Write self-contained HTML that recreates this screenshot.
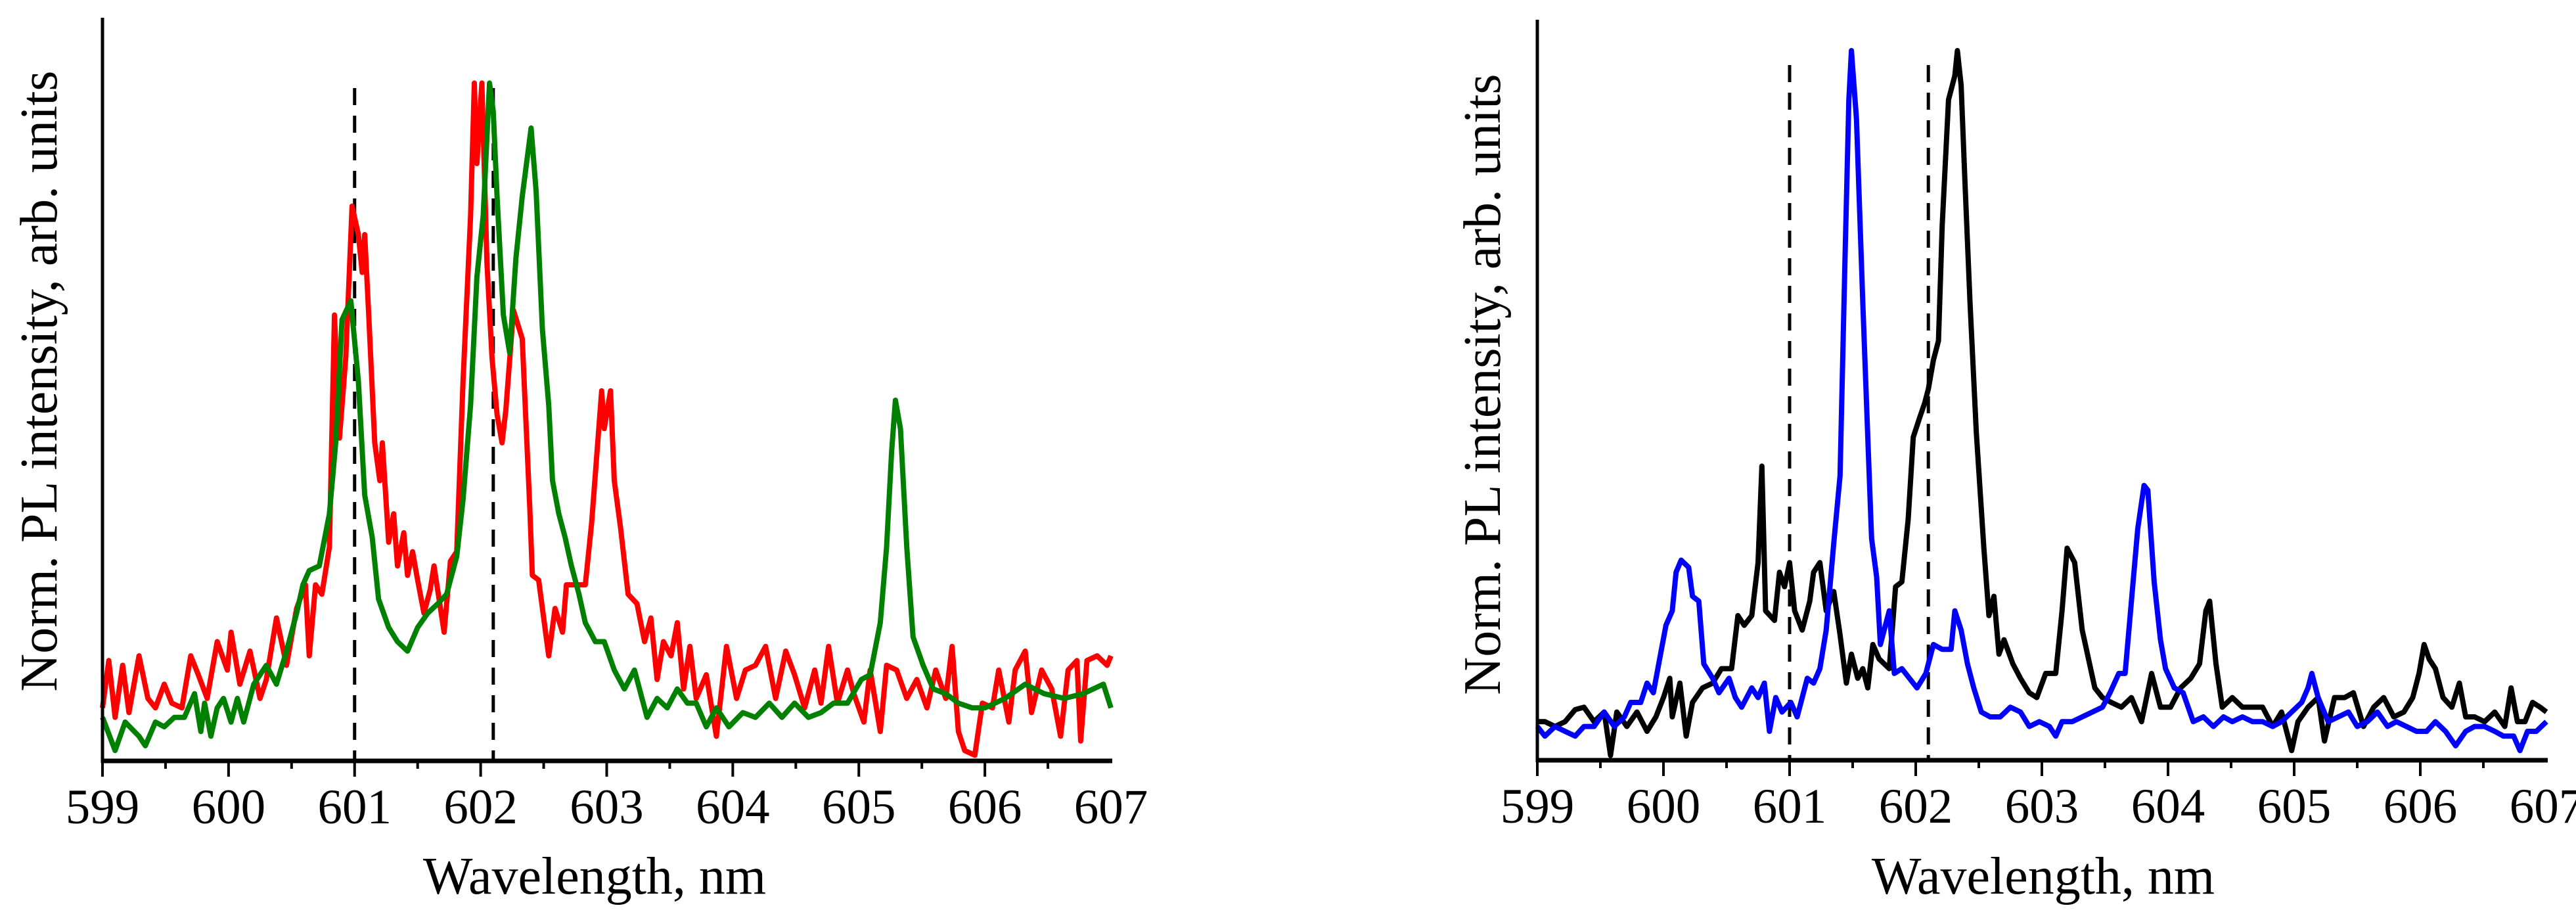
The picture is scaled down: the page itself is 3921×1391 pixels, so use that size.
<!DOCTYPE html>
<html><head><meta charset="utf-8"><style>
html,body{margin:0;padding:0;background:#fff;}
svg{display:block;}
text{font-family:"Liberation Serif",serif;fill:#000;}
</style></head>
<body>
<svg id="chart" width="3921" height="1391" viewBox="0 0 3921 1391" xmlns="http://www.w3.org/2000/svg">
<g id="left"></g>
<g id="right"></g>
</svg>
<script>
// ---- data (wavelength nm, intensity arb. counts) ----
const xTicks = [599,600,601,602,603,604,605,606,607];
const xTickLabels = ["599","600","601","602","603","604","605","606","607"];
const dashLeft = [601.0, 602.1];
const dashRight = [601.0, 602.1];

const redX = [599.00,599.05,599.10,599.16,599.21,599.29,599.36,599.42,599.49,599.55,599.63,599.70,599.76,599.83,599.91,599.99,600.02,600.09,600.17,600.25,600.30,600.38,600.46,600.54,600.61,600.64,600.69,600.74,600.80,600.84,600.88,600.93,600.98,601.03,601.06,601.08,601.11,601.16,601.20,601.22,601.27,601.31,601.34,601.39,601.42,601.46,601.50,601.55,601.60,601.63,601.71,601.76,601.81,601.86,601.92,601.95,601.97,602.01,602.05,602.09,602.13,602.17,602.20,602.26,602.33,602.39,602.41,602.46,602.54,602.59,602.65,602.68,602.75,602.83,602.88,602.96,602.98,603.03,603.06,603.11,603.17,603.24,603.30,603.35,603.40,603.45,603.51,603.56,603.61,603.66,603.71,603.79,603.87,603.95,604.03,604.10,604.18,604.26,604.34,604.42,604.49,604.57,604.65,604.70,604.76,604.83,604.91,604.96,605.04,605.09,605.17,605.22,605.30,605.38,605.46,605.54,605.61,605.69,605.74,605.79,605.84,605.92,605.98,606.06,606.11,606.19,606.24,606.32,606.37,606.45,606.53,606.60,606.66,606.73,606.76,606.81,606.89,606.97,607.00];
const redY = [112,212,92,202,102,222,132,112,162,122,112,222,182,132,252,192,272,162,232,132,172,302,202,322,372,222,372,352,452,942,682,852,1172,1112,1032,1112,952,672,592,672,462,522,412,482,392,442,382,312,362,412,272,422,442,802,1152,1432,1262,1432,1052,852,732,672,742,952,892,532,392,382,222,322,272,372,372,372,502,782,702,782,592,492,352,332,252,302,172,252,222,292,152,242,132,182,52,242,132,192,202,242,132,232,182,112,192,122,242,122,192,142,82,192,62,202,192,132,172,112,192,132,242,62,22,12,122,112,192,82,192,232,102,192,152,52,192,212,42,212,222,202,222];

const greenX = [599.00,599.10,599.18,599.29,599.34,599.42,599.49,599.57,599.65,599.73,599.78,599.81,599.86,599.91,599.96,600.02,600.07,600.12,600.20,600.30,600.38,600.46,600.54,600.59,600.64,600.72,600.80,600.85,600.90,600.97,601.03,601.08,601.14,601.19,601.27,601.34,601.42,601.50,601.58,601.66,601.73,601.81,601.86,601.92,601.97,602.02,602.07,602.10,602.13,602.18,602.23,602.28,602.33,602.40,602.44,602.49,602.54,602.57,602.62,602.67,602.72,602.78,602.83,602.91,602.98,603.06,603.14,603.22,603.32,603.40,603.48,603.56,603.64,603.71,603.79,603.87,603.97,604.08,604.18,604.29,604.39,604.49,604.60,604.70,604.80,604.91,605.02,605.09,605.17,605.22,605.26,605.29,605.33,605.38,605.43,605.51,605.59,605.69,605.79,605.90,606.00,606.16,606.32,606.47,606.63,606.78,606.94,607.00];
const greenY = [92,22,82,52,32,82,72,92,92,142,62,122,52,112,132,82,132,82,162,202,162,232,312,372,402,412,522,672,932,972,802,562,472,342,282,252,232,282,312,332,352,432,552,752,1022,1152,1432,1372,1192,942,862,1062,1192,1337,1202,912,752,592,522,472,412,352,292,252,252,192,152,192,92,132,112,152,122,122,72,112,72,102,92,122,92,122,92,102,122,122,172,182,292,452,652,762,702,452,262,202,152,142,122,112,112,132,162,142,132,142,162,112];

const blackX = [599.00,599.06,599.14,599.22,599.30,599.37,599.45,599.53,599.58,599.63,599.71,599.79,599.87,599.94,600.00,600.05,600.07,600.13,600.18,600.23,600.31,600.39,600.46,600.54,600.59,600.64,600.70,600.75,600.78,600.81,600.88,600.92,600.96,601.00,601.04,601.10,601.16,601.19,601.24,601.29,601.35,601.40,601.45,601.49,601.54,601.58,601.62,601.66,601.71,601.79,601.84,601.89,601.94,601.98,602.03,602.07,602.10,602.14,602.18,602.21,602.26,602.31,602.33,602.36,602.39,602.43,602.48,602.54,602.58,602.62,602.66,602.70,602.77,602.83,602.90,602.96,603.03,603.11,603.16,603.20,603.26,603.32,603.37,603.42,603.48,603.55,603.63,603.71,603.79,603.87,603.94,604.02,604.10,604.18,604.25,604.30,604.33,604.38,604.43,604.51,604.59,604.67,604.75,604.83,604.90,604.98,605.03,605.11,605.19,605.24,605.32,605.40,605.47,605.55,605.63,605.71,605.79,605.87,605.94,605.99,606.03,606.07,606.12,606.18,606.25,606.31,606.36,606.43,606.51,606.59,606.67,606.72,606.77,606.83,606.89,606.95,607.00];
const blackY = [80,80,70,80,105,110,80,100,10,100,70,100,60,90,130,170,90,160,50,120,150,160,190,190,300,280,300,410,610,310,290,390,360,410,310,270,330,390,410,310,350,260,160,220,170,190,150,240,210,190,360,370,500,670,710,740,770,830,870,1110,1370,1420,1472,1400,1200,950,680,440,300,340,220,250,200,170,140,130,180,180,310,440,410,270,210,150,130,120,110,130,80,180,110,110,150,170,200,310,330,200,110,130,110,110,110,70,100,20,80,110,130,40,130,130,140,70,110,130,90,100,130,180,240,210,190,130,110,160,90,90,80,100,70,150,80,80,120,110,100];

const blueX = [599.00,599.06,599.14,599.22,599.30,599.37,599.45,599.53,599.61,599.69,599.74,599.82,599.87,599.92,599.97,600.02,600.07,600.10,600.14,600.20,600.23,600.28,600.32,600.39,600.44,600.52,600.57,600.62,600.70,600.75,600.80,600.84,600.89,600.94,601.01,601.06,601.14,601.19,601.24,601.29,601.35,601.40,601.44,601.47,601.49,601.53,601.58,601.62,601.65,601.69,601.72,601.79,601.83,601.89,601.95,602.01,602.08,602.14,602.21,602.28,602.31,602.36,602.41,602.46,602.52,602.59,602.67,602.75,602.83,602.90,602.98,603.06,603.11,603.16,603.24,603.32,603.40,603.48,603.54,603.61,603.66,603.71,603.76,603.81,603.84,603.89,603.94,603.98,604.05,604.12,604.20,604.28,604.36,604.44,604.51,604.59,604.67,604.75,604.83,604.90,604.98,605.06,605.11,605.14,605.19,605.27,605.35,605.43,605.50,605.58,605.66,605.74,605.81,605.89,605.97,606.05,606.12,606.20,606.28,606.36,606.43,606.51,606.59,606.66,606.74,606.79,606.85,606.92,607.00];
const blueY = [70,50,70,60,50,70,70,100,70,90,120,120,160,140,210,280,310,390,415,400,340,330,200,170,140,170,130,110,150,130,160,60,130,100,120,90,170,160,190,270,450,590,1050,1370,1472,1330,950,670,460,380,240,310,180,190,170,150,180,240,230,230,310,270,200,150,100,90,90,110,100,70,80,70,50,80,80,90,100,110,140,180,180,330,480,570,560,370,250,190,150,140,80,90,70,90,80,90,80,80,70,80,100,120,150,180,130,80,90,100,70,80,100,70,80,70,60,60,80,60,30,60,70,70,60,50,50,20,60,60,80];

// ---- panel geometry ----
const NS='http://www.w3.org/2000/svg';
function mk(tag, attrs, parent){const e=document.createElementNS(NS,tag);for(const k in attrs)e.setAttribute(k,attrs[k]);parent.appendChild(e);return e;}

function panel(g, cfg){
  const sx = v => cfg.x0 + (v-599)/(607-599)*(cfg.x1-cfg.x0);
  const sy = v => cfg.yb - v/cfg.ymax*(cfg.yb-cfg.ypk);
  // dashed reference lines
  cfg.dash.forEach((d,i)=>{
    const l = mk('line',{x1:sx(d),x2:sx(d),y1:cfg.dtop,y2:cfg.yb,stroke:'#000','stroke-width':5,'stroke-dasharray':'26 16'},g);
    
    
  });
  // series
  cfg.series.forEach(s=>{
    let d='';
    s.x.forEach((xv,i)=>{d+=(i?'L':'M')+sx(xv).toFixed(1)+' '+sy(s.y[i]).toFixed(1);});
    const p = mk('path',{d:d,fill:'none',stroke:s.color,'stroke-width':8,'stroke-linejoin':'round'},g);
    
    
  });
  // axes
  const ya = mk('line',{x1:cfg.x0,x2:cfg.x0,y1:cfg.atop,y2:cfg.yb+3,stroke:'#000','stroke-width':5},g);
  
  
  const xa = mk('line',{x1:cfg.x0-2,x2:cfg.x1+2,y1:cfg.yb,y2:cfg.yb,stroke:'#000','stroke-width':7},g);
  
  
  for(let k=0;k<16;k++){
    const v=599+k*0.5;
    const t=mk('line',{x1:sx(v),x2:sx(v),y1:cfg.yb,y2:cfg.yb+(k%2?12:24),stroke:'#000','stroke-width':4},g);
    
    
  }
  xTicks.forEach((v,i)=>{
    const t=mk('text',{x:sx(v),y:cfg.yb+95,'font-size':75,'text-anchor':'middle'},g);
    t.textContent=xTickLabels[i];
    
    
  });
  const xt=mk('text',{x:cfg.xtc,y:1360,'font-size':80,'text-anchor':'middle'},g);
  xt.textContent='Wavelength, nm';
  
  
  const yt=mk('text',{x:0,y:0,'font-size':80,'text-anchor':'middle',transform:'translate('+cfg.ylx+','+cfg.ylc+') rotate(-90)'},g);
  yt.textContent='Norm. PL intensity, arb. units';
  
  
}

panel(document.getElementById('left'),{x0:156,x1:1691,yb:1158,ypk:125,ymax:1434,atop:27,dtop:134,dash:dashLeft,xtc:905,ylx:86,ylc:580,
  series:[{x:redX,y:redY,color:'#ff0000',name:'red-spectrum'},{x:greenX,y:greenY,color:'#008000',name:'green-spectrum'}]});
panel(document.getElementById('right'),{x0:2340,x1:3876,yb:1157,ypk:77,ymax:1472,atop:30,dtop:99,dash:dashRight,xtc:3110,ylx:2283,ylc:585,
  series:[{x:blackX,y:blackY,color:'#000000',name:'black-spectrum'},{x:blueX,y:blueY,color:'#0000ff',name:'blue-spectrum'}]});
</script>
</body></html>
